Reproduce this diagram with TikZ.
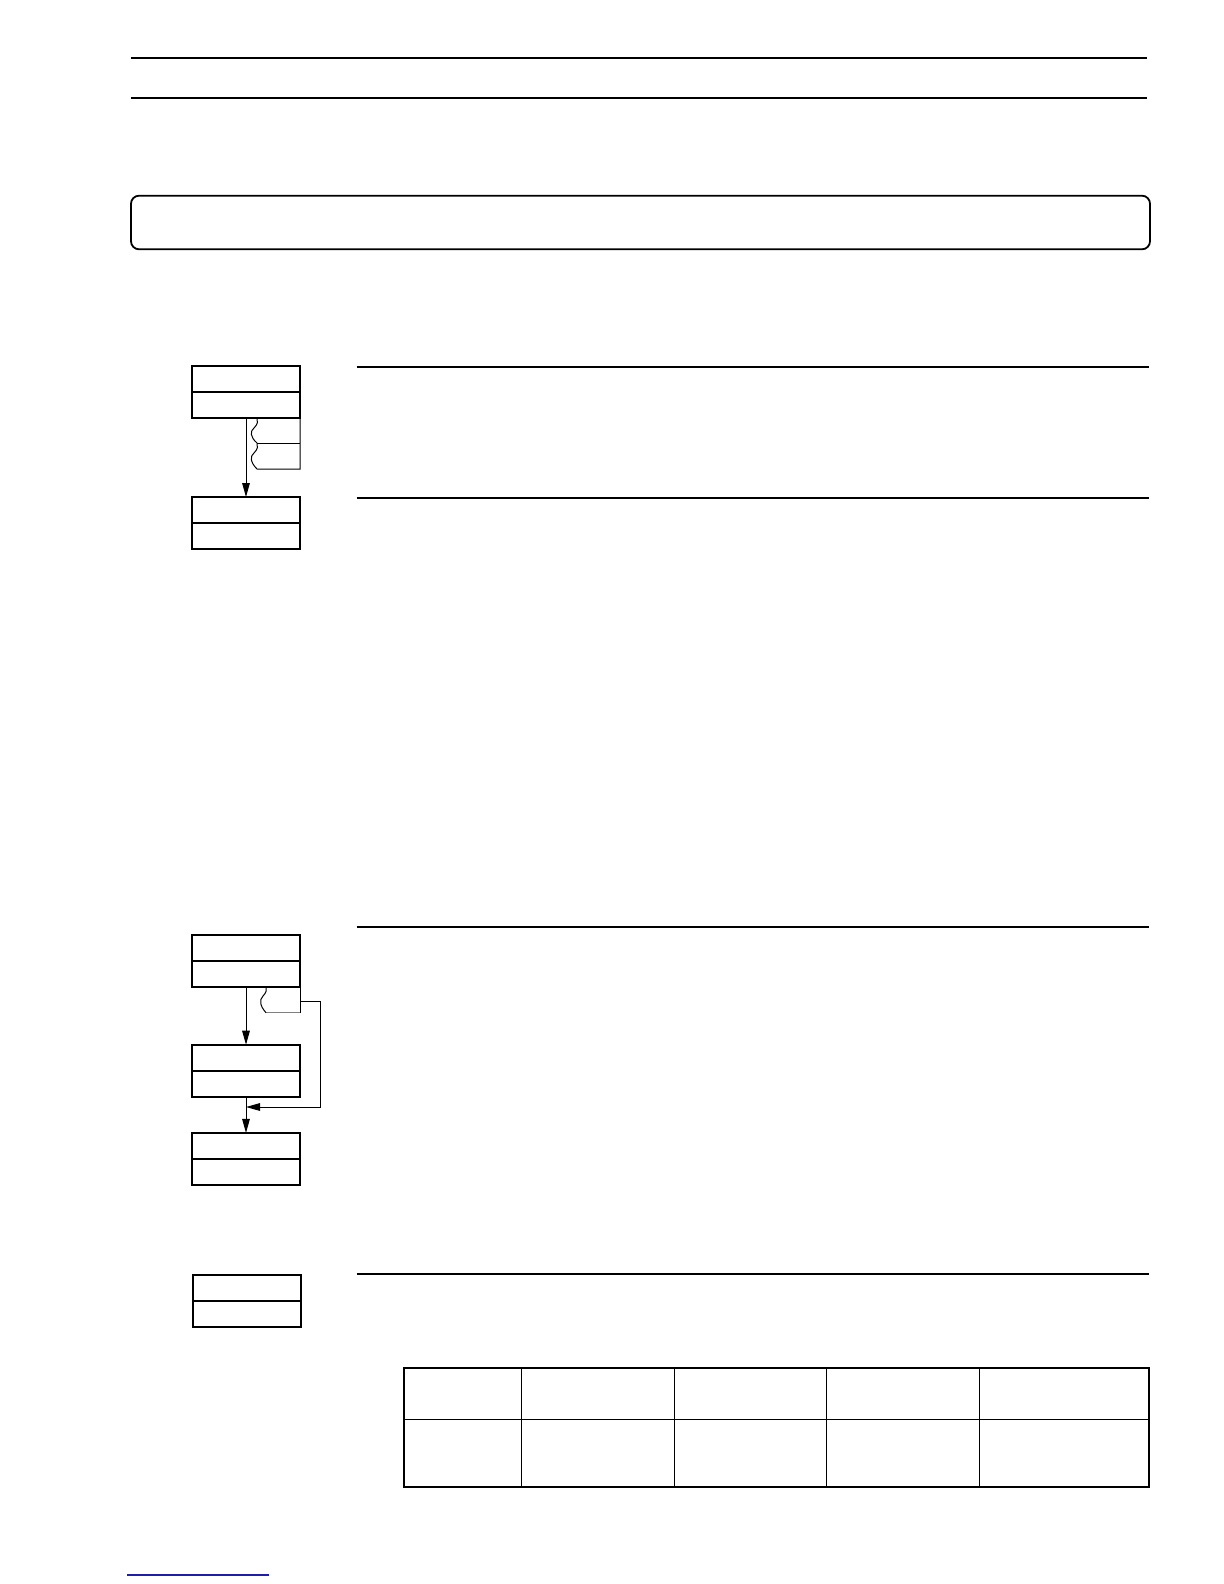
\documentclass[tikz,border=0pt]{standalone}
\usetikzlibrary{arrows.meta, positioning}
\definecolor{linkblue}{RGB}{30,30,170}
\tikzset{
  opbox/.style={draw, line width=1pt, minimum width=54pt, minimum height=26pt, inner sep=0pt, outer sep=0pt},
  heavy/.style={line width=0.9pt},
  thin/.style={line width=0.5pt},
  flow/.style={line width=0.5pt, -{Triangle[length=7pt,width=3.8pt]}},
}
\begin{document}
\begin{tikzpicture}[x=0.5pt, y=-0.5pt]
	\useasboundingbox (0,0) rectangle (1224,1584);
	\draw[heavy] (131,57.7) -- (1147,57.7);
	\draw[heavy] (131,98) -- (1147,98);
	\draw[heavy, rounded corners=4pt] (131,195.7) rectangle (1150,249.3);
	\foreach \y in {366.7, 498, 926.7, 1274.3}
		\draw[heavy] (356.7,\y) -- (1149,\y);
	% boxes
	\node[opbox] (srcA) at (246,392) {};
	\node[opbox] (dstA) at (246,523) {};
	\node[opbox] (srcB) at (246,960.7) {};
	\node[opbox] (midB) at (246,1070.7) {};
	\node[opbox] (dstB) at (246,1158.9) {};
	\node[opbox] (solo) at (247,1300.5) {};
	\foreach \b in {srcA,dstA,srcB,midB,dstB,solo}
		\draw[line width=1pt] (\b.west) -- (\b.east);
	\draw[flow] (srcA) -- (dstA);
	\draw[thin] (300,418) -- (300,469) -- (257,469)
		.. controls (250,462) and (250,456) .. (254,453) .. controls (258,449) and (258,446) .. (257,443)
		.. controls (250,437) and (250,431) .. (254,428) .. controls (258,424) and (258,421) .. (257,418);
	\draw[thin] (257,443) -- (300,443);
	\draw[flow] (srcB) -- (midB);
	\draw[flow] (midB) -- (dstB);
	\draw[thin] (300,987) -- (300,1012.7);
	\draw[thin, gray] (300,1012.7) -- (266,1012.7);
	\draw[thin] (266,1012.7) .. controls (260,1006) and (259,1000) .. (263,996) .. controls (266,993) and (267,990) .. (266,987);
	\coordinate (tap) at (300,1001);
	\coordinate (join) at (246,1107);
	\draw[flow] (tap) -- (320.7,1001) |- (join);
	% table
	\draw[line width=1pt] (404,1368) rectangle (1149,1487);
	\draw[thin] (404,1419) -- (1149,1419);
	\foreach \x in {521.6, 674.4, 826.6, 979.4}
		\draw[thin] (\x,1368) -- (\x,1487);
	\draw[line width=0.6pt, linkblue] (127,1575) -- (269,1575);
\end{tikzpicture}
\end{document}
